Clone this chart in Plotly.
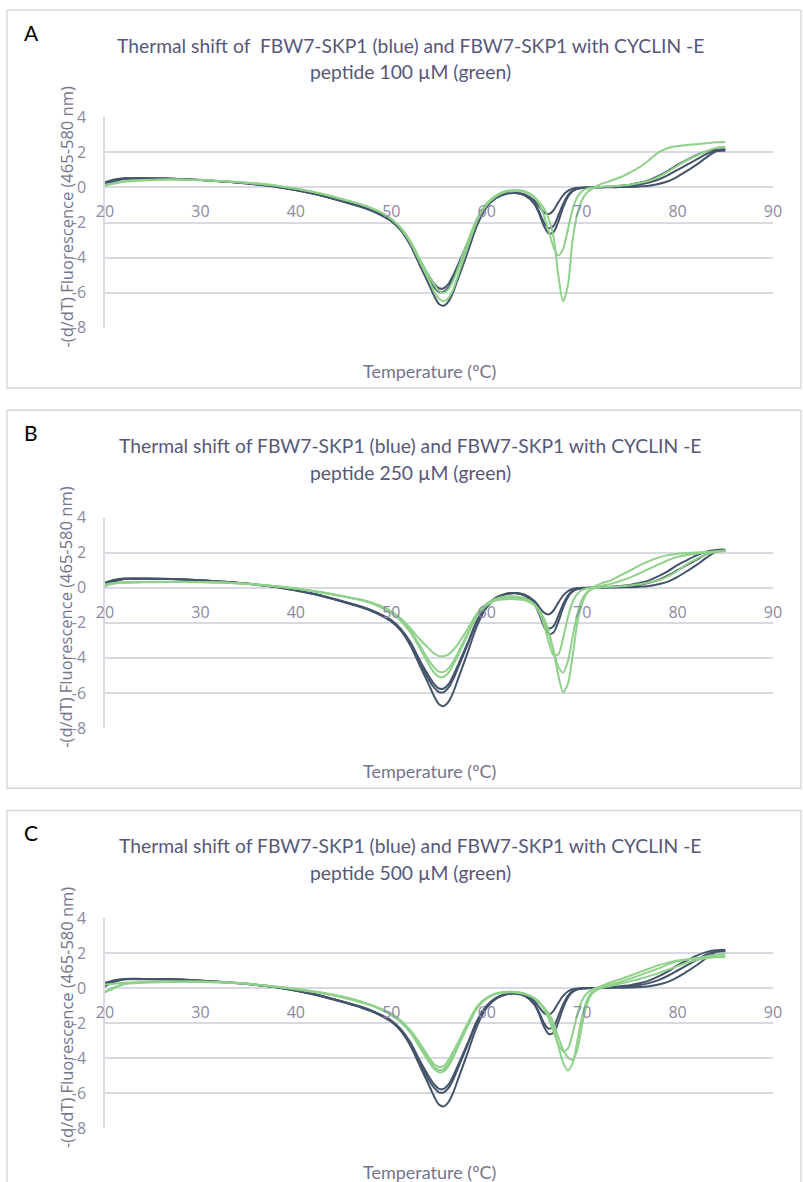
import plotly.graph_objects as go

W, H = 803, 1182

# ---------------- data ----------------
TEMPERATURE = [20, 21, 22, 24, 27, 30, 34, 38, 42, 45,
               47, 48, 49, 50, 51, 52, 53, 54, 54.5, 55,
               55.5, 56, 56.5, 57, 58, 59, 60, 61, 62, 63,
               64, 65, 65.5, 66, 66.5, 67, 67.5, 68, 68.5, 69,
               69.5, 70, 70.5, 71, 72, 73, 74, 75, 76, 77,
               78, 79, 80, 81, 82, 83, 84, 85]

# FBW7-SKP1 alone (blue)
BLUE_1 = [0.30, 0.45, 0.52, 0.52, 0.50, 0.43, 0.28, 0.05, -0.35, -0.78,
          -1.10, -1.30, -1.55, -1.85, -2.35, -3.10, -4.15, -5.10, -5.50, -5.75,
          -5.75, -5.50, -5.00, -4.40, -3.15, -1.85, -1.00, -0.55, -0.35, -0.30,
          -0.40, -0.75, -1.10, -1.42, -1.52, -1.30, -0.85, -0.45, -0.20, -0.07,
          -0.02, 0.00, 0.00, 0.00, 0.02, 0.05, 0.10, 0.16, 0.27, 0.42,
          0.66, 0.95, 1.30, 1.58, 1.85, 2.05, 2.15, 2.18]
BLUE_2 = [0.20, 0.40, 0.50, 0.50, 0.50, 0.42, 0.27, 0.04, -0.37, -0.80,
          -1.12, -1.32, -1.58, -1.88, -2.40, -3.20, -4.30, -5.30, -5.70, -5.95,
          -5.95, -5.70, -5.20, -4.55, -3.25, -1.90, -1.05, -0.57, -0.35, -0.30,
          -0.45, -0.90, -1.40, -2.00, -2.32, -2.20, -1.60, -0.95, -0.45, -0.18,
          -0.07, -0.03, -0.01, 0.00, 0.01, 0.03, 0.06, 0.10, 0.17, 0.28,
          0.45, 0.70, 1.00, 1.30, 1.60, 1.90, 2.08, 2.10]
BLUE_3 = [0.10, 0.35, 0.50, 0.52, 0.50, 0.42, 0.27, 0.03, -0.38, -0.82,
          -1.15, -1.35, -1.60, -1.92, -2.45, -3.30, -4.45, -5.60, -6.20, -6.65,
          -6.75, -6.50, -5.95, -5.20, -3.70, -2.15, -1.12, -0.60, -0.37, -0.32,
          -0.45, -0.95, -1.50, -2.20, -2.62, -2.55, -1.95, -1.15, -0.55, -0.22,
          -0.08, -0.03, -0.01, 0.00, 0.00, 0.01, 0.02, 0.03, 0.06, 0.10,
          0.20, 0.35, 0.62, 0.95, 1.30, 1.70, 2.05, 2.12]

# with CYCLIN-E peptide 100 uM (green)
GREEN_100_1 = [0.10, 0.22, 0.32, 0.40, 0.45, 0.42, 0.30, 0.10, -0.28, -0.70,
               -1.00, -1.20, -1.45, -1.80, -2.30, -3.05, -4.10, -5.10, -5.55, -5.90,
               -6.00, -5.80, -5.30, -4.60, -3.10, -1.75, -0.90, -0.45, -0.20, -0.15,
               -0.22, -0.55, -0.95, -1.60, -2.50, -3.40, -3.88, -3.50, -2.40, -1.25,
               -0.55, -0.20, -0.07, -0.02, 0.03, 0.06, 0.10, 0.15, 0.25, 0.38,
               0.60, 0.90, 1.25, 1.55, 1.82, 2.05, 2.25, 2.32]
GREEN_100_2 = [0.15, 0.25, 0.35, 0.42, 0.45, 0.42, 0.31, 0.10, -0.27, -0.68,
               -1.00, -1.20, -1.45, -1.80, -2.35, -3.15, -4.25, -5.35, -5.95, -6.35,
               -6.50, -6.30, -5.80, -5.00, -3.40, -1.90, -1.00, -0.50, -0.25, -0.20,
               -0.25, -0.55, -0.85, -1.20, -1.80, -2.80, -5.00, -6.50, -5.60, -3.00,
               -1.50, -0.70, -0.30, -0.08, 0.20, 0.38, 0.58, 0.85, 1.15, 1.55,
               2.00, 2.25, 2.36, 2.42, 2.47, 2.52, 2.57, 2.59]

# with CYCLIN-E peptide 250 uM (green)
GREEN_250_1 = [0.15, 0.25, 0.30, 0.32, 0.33, 0.32, 0.25, 0.08, -0.20, -0.48,
               -0.70, -0.85, -1.05, -1.35, -1.75, -2.30, -2.95, -3.50, -3.75, -3.90,
               -3.90, -3.80, -3.55, -3.20, -2.35, -1.45, -0.90, -0.62, -0.50, -0.50,
               -0.60, -0.95, -1.40, -2.10, -3.10, -3.85, -3.80, -2.90, -1.70, -0.80,
               -0.35, -0.12, -0.04, 0.00, 0.25, 0.42, 0.70, 0.98, 1.27, 1.52,
               1.72, 1.86, 1.94, 1.98, 2.01, 2.04, 2.08, 2.12]
GREEN_250_2 = [0.18, 0.27, 0.31, 0.33, 0.34, 0.33, 0.25, 0.08, -0.20, -0.50,
               -0.72, -0.88, -1.10, -1.40, -1.85, -2.45, -3.30, -4.20, -4.55, -4.80,
               -4.80, -4.60, -4.20, -3.70, -2.60, -1.55, -0.95, -0.68, -0.58, -0.57,
               -0.65, -0.95, -1.30, -1.80, -2.60, -3.60, -4.50, -4.85, -4.20, -2.80,
               -1.50, -0.65, -0.25, -0.05, 0.10, 0.22, 0.38, 0.58, 0.82, 1.08,
               1.33, 1.57, 1.76, 1.87, 1.95, 2.02, 2.07, 2.10]
GREEN_250_3 = [0.12, 0.24, 0.29, 0.31, 0.32, 0.31, 0.24, 0.07, -0.21, -0.50,
               -0.73, -0.90, -1.15, -1.45, -1.90, -2.55, -3.45, -4.45, -4.85, -5.08,
               -5.08, -4.85, -4.40, -3.85, -2.70, -1.60, -1.00, -0.72, -0.65, -0.65,
               -0.72, -1.00, -1.30, -1.75, -2.50, -3.60, -5.00, -5.95, -5.50, -3.90,
               -2.00, -0.90, -0.32, -0.08, 0.02, 0.05, 0.08, 0.13, 0.20, 0.30,
               0.42, 0.65, 0.97, 1.35, 1.65, 1.90, 2.05, 2.13]

# with CYCLIN-E peptide 500 uM (green)
GREEN_500_1 = [0.20, 0.25, 0.30, 0.35, 0.37, 0.37, 0.28, 0.07, -0.20, -0.50,
               -0.80, -0.98, -1.20, -1.45, -1.85, -2.40, -3.15, -4.00, -4.35, -4.50,
               -4.45, -4.10, -3.60, -3.10, -2.00, -1.05, -0.55, -0.30, -0.22, -0.22,
               -0.32, -0.60, -0.85, -1.20, -1.75, -2.50, -3.20, -3.60, -3.45, -2.60,
               -1.50, -0.70, -0.30, -0.10, 0.10, 0.33, 0.50, 0.70, 0.90, 1.10,
               1.30, 1.45, 1.57, 1.63, 1.70, 1.80, 1.90, 1.94]
GREEN_500_2 = [-0.20, 0.05, 0.25, 0.33, 0.36, 0.36, 0.28, 0.07, -0.22, -0.52,
               -0.82, -1.00, -1.22, -1.50, -1.90, -2.50, -3.30, -4.15, -4.50, -4.68,
               -4.62, -4.30, -3.80, -3.25, -2.10, -1.10, -0.58, -0.32, -0.23, -0.23,
               -0.33, -0.60, -0.85, -1.15, -1.60, -2.30, -3.30, -4.25, -4.70, -4.30,
               -3.00, -1.60, -0.70, -0.25, 0.02, 0.20, 0.35, 0.53, 0.72, 0.92,
               1.12, 1.35, 1.53, 1.63, 1.70, 1.76, 1.80, 1.82]
GREEN_500_3 = [-0.25, 0.00, 0.22, 0.30, 0.34, 0.35, 0.27, 0.06, -0.23, -0.55,
               -0.85, -1.02, -1.25, -1.55, -1.95, -2.55, -3.40, -4.25, -4.62, -4.80,
               -4.75, -4.45, -3.95, -3.35, -2.20, -1.15, -0.60, -0.35, -0.25, -0.25,
               -0.35, -0.58, -0.80, -1.10, -1.45, -2.00, -2.80, -3.50, -3.95, -4.10,
               -3.50, -2.10, -0.95, -0.35, 0.00, 0.12, 0.25, 0.38, 0.52, 0.68,
               0.85, 1.05, 1.25, 1.45, 1.60, 1.70, 1.75, 1.76]

BLUE_SERIES = [BLUE_1, BLUE_2, BLUE_3]
GREEN_SERIES = [[GREEN_100_1, GREEN_100_2],
                [GREEN_250_1, GREEN_250_2, GREEN_250_3],
                [GREEN_500_1, GREEN_500_2, GREEN_500_3]]

PANEL_LETTERS = ["A", "B", "C"]
TITLE_LINE_1 = ["Thermal shift of\u00a0 FBW7-SKP1 (blue) and FBW7-SKP1 with CYCLIN -E",
                "Thermal shift of FBW7-SKP1 (blue) and FBW7-SKP1 with CYCLIN -E",
                "Thermal shift of FBW7-SKP1 (blue) and FBW7-SKP1 with CYCLIN -E"]
TITLE_LINE_2 = ["peptide 100 µM (green)", "peptide 250 µM (green)", "peptide 500 µM (green)"]
X_TITLE = "Temperature (ºC)"
Y_TITLE = "-(d/dT) Fluorescence (465-580 nm)"
X_TICKS = [20, 30, 40, 50, 60, 70, 80, 90]
Y_TICKS = [-8, -6, -4, -2, 0, 2, 4]
Y_TICK_LABELS = ["-8", "-6", "-4", "-2", "0", "2", "4"]

# ---------------- styling ----------------
BLUE = "#44546A"
GREEN = "#8FD18A"
GRID = "#D9D9E1"
TITLE_C = "#57577A"
AXIS_TITLE_C = "#74748C"
TICK_C = "#8A8AA2"
BOX_C = "#D9D9D9"
TITLE_FONT = "Lato"
TICK_FONT = "Open Sans"

PANEL_STEP = 400.3          # px between panels
PLOT_LEFT, PLOT_RIGHT = 105, 773
PLOT_TOP0, PLOT_BOT0 = 117.3, 327.7


def px(x):
    return x / W


def py(y):
    return 1 - y / H


def note(text, x, y, font, **kw):
    d = dict(text=text, xref="paper", yref="paper", x=px(x), y=py(y),
             xanchor="center", yanchor="middle", showarrow=False, font=font)
    d.update(kw)
    return d


fig = go.Figure()
layout = dict(
    width=W, height=H, margin=dict(l=0, r=0, t=0, b=0, autoexpand=False),
    paper_bgcolor="white", plot_bgcolor="white", showlegend=False,
    shapes=[], annotations=[],
)

for i in range(3):
    off = i * PANEL_STEP
    top, bot = PLOT_TOP0 + off, PLOT_BOT0 + off
    xa = "x" if i == 0 else f"x{i+1}"
    ya = "y" if i == 0 else f"y{i+1}"
    xkey = "xaxis" if i == 0 else f"xaxis{i+1}"
    ykey = "yaxis" if i == 0 else f"yaxis{i+1}"

    for s in BLUE_SERIES:
        fig.add_trace(go.Scatter(x=TEMPERATURE, y=s, mode="lines", xaxis=xa, yaxis=ya,
                                 line=dict(color=BLUE, width=2, shape="spline", smoothing=0.8),
                                 hoverinfo="skip"))
    for s in GREEN_SERIES[i]:
        fig.add_trace(go.Scatter(x=TEMPERATURE, y=s, mode="lines", xaxis=xa, yaxis=ya,
                                 line=dict(color=GREEN, width=2, shape="spline", smoothing=0.8),
                                 hoverinfo="skip"))

    y0p, y1p = py(bot), py(top)
    zero_pos = y1p - (4 / 12) * (y1p - y0p)
    layout[ykey] = dict(
        domain=[y0p, y1p], range=[-8, 4], tickvals=Y_TICKS, ticktext=Y_TICK_LABELS,
        anchor=xa, automargin=False,
        showgrid=True, gridcolor=GRID, gridwidth=1.5, zeroline=False,
        showline=True, linecolor=GRID, linewidth=1.5, ticks="",
        ticklabelstandoff=14,
        tickfont=dict(family=TICK_FONT, size=16, color=TICK_C),
        fixedrange=True,
    )
    layout[xkey] = dict(
        domain=[px(PLOT_LEFT), px(PLOT_RIGHT)], range=[20, 90], tickvals=X_TICKS,
        anchor="free", position=zero_pos, automargin=False,
        showgrid=False, zeroline=False,
        showline=False, ticks="", ticklabelstandoff=13,
        tickfont=dict(family=TICK_FONT, size=16, color=TICK_C),
        fixedrange=True,
    )

    # panel frame
    layout["shapes"].append(dict(type="rect", xref="paper", yref="paper",
                                 x0=px(7), x1=px(801), y0=py(388 + off), y1=py(10 + off),
                                 line=dict(color=BOX_C, width=1.5), layer="below"))
    layout["annotations"].append(note(PANEL_LETTERS[i], 31, 32 + off,
                                      dict(family=TITLE_FONT, size=21, color="#000000")))
    layout["annotations"].append(note(TITLE_LINE_1[i], 410, 45 + off,
                                      dict(family=TITLE_FONT, size=19.3, color=TITLE_C)))
    layout["annotations"].append(note(TITLE_LINE_2[i], 410, 72 + off,
                                      dict(family=TITLE_FONT, size=19.3, color=TITLE_C)))
    layout["annotations"].append(note(Y_TITLE, 66, (top + bot) / 2 - 5,
                                      dict(family=TICK_FONT, size=16.5, color=AXIS_TITLE_C),
                                      textangle=-90))
    layout["annotations"].append(note(X_TITLE, 429, 371 + off,
                                      dict(family=TITLE_FONT, size=18, color=AXIS_TITLE_C)))

fig.update_layout(**layout)
fig.write_html("out.html", config={"displayModeBar": False},
               post_script="document.body.style.margin='0';document.body.style.overflow='hidden';")
